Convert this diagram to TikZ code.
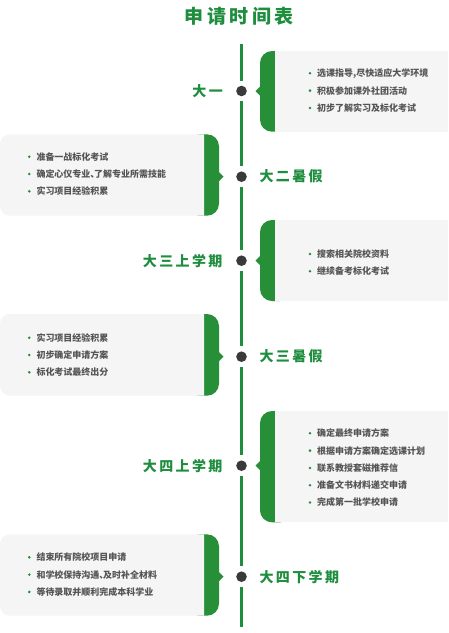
\documentclass[tikz,border=0pt]{standalone}
\usepackage{fontspec}
\newfontfamily\cjk{Noto Sans CJK SC}
\definecolor{tg}{HTML}{1E8E3E}
\definecolor{bg}{HTML}{268F38}
\definecolor{pg}{HTML}{F5F5F5}
\definecolor{tx}{HTML}{555555}
\definecolor{dotc}{HTML}{3A3A3A}
\newcommand\ks{\kern2.4pt}
\newcommand\kt{\kern3.4pt}
\newcommand\dun{、\kern-5.4pt}
\newcommand\rbox[3]{%
  \fill[bg,rounded corners=12pt] (260,#1) rectangle (292,#2);
  \fill[pg] (275,#1) rectangle (448,#2);
  \fill[bg] (260,#3-4.5) -- (255.5,#3) -- (260,#3+4.5) -- cycle;}
\newcommand\lbox[3]{%
  \fill[bg,rounded corners=12pt] (188,#1) rectangle (219,#2);
  \fill[pg] (204,#1) [rounded corners=10pt] -- (0,#1) -- (0,#2) [sharp corners] -- (204,#2) -- cycle;
  \fill[bg] (219,#3-4.5) -- (223.5,#3) -- (219,#3+4.5) -- cycle;}
\newcommand\items[4]{% name, bullet x, first y, list
  \foreach \t [count=\i from 0] in {#4} {
    \node[bul] (#1b\i) at (#2, #3+\i*17.3) {};
    \node[item] (#1t\i) at (#2+7, #3+\i*17.3) {\t};
  }}
\begin{document}
\begin{tikzpicture}[x=1pt,y=-1pt,
  tdot/.style={circle,fill=dotc,minimum size=10.6pt,inner sep=0pt,outer sep=5pt},
  lab/.style={font=\cjk\bfseries\fontsize{14}{16}\selectfont,text=tg,inner sep=0pt},
  item/.style={font=\cjk\bfseries\fontsize{9}{11}\selectfont,text=tx,inner sep=0pt,anchor=west},
  bul/.style={circle,fill=tg,minimum size=2.8pt,inner sep=0pt}]
\useasboundingbox[fill=white] (0,0) rectangle (448,633);

% title
\node[font=\cjk\bfseries\fontsize{19}{21}\selectfont,text=tg,inner sep=0pt] (title) at (239.2,16.7)
  {申\kt 请\kt 时\kt 间\kt 表};

% boxes
\rbox{51}{131.7}{91}
\lbox{134.3}{215.7}{176.7}
\rbox{220}{301}{260.7}
\lbox{314}{395.7}{356.7}
\rbox{411}{522.3}{465.7}
\lbox{534.3}{615.7}{576.7}

% items
\items{a}{310}{73.3}{{选课指导,尽快适应大学环境},积极参加课外社团活动,初步了解实习及标化考试}
\items{b}{29.3}{156.7}{准备一战标化考试,确定心仪专业\dun 了解专业所需技能,实习项目经验积累}
\items{c}{310}{254}{搜索相关院校资料,继续备考标化考试}
\items{d}{29.3}{337.7}{实习项目经验积累,初步确定申请方案,标化考试最终出分}
\items{e}{310}{433.3}{确定最终申请方案,根据申请方案确定选课计划,联系教授套磁推荐信,准备文书材料递交申请,完成第一批学校申请}
\items{f}{29.3}{557.3}{结束所有院校项目申请,和学校保持沟通\dun 及时补全材料,等待录取并顺利完成本科学业}

% timeline
\node[tdot] (d1) at (241.5,91) {};
\node[tdot] (d2) at (241.5,176.7) {};
\node[tdot] (d3) at (241.5,260.7) {};
\node[tdot] (d4) at (241.5,356.7) {};
\node[tdot] (d5) at (241.5,465.7) {};
\node[tdot] (d6) at (241.5,576.7) {};
\coordinate (top) at (241.5,44);
\coordinate (bot) at (241.5,627);
\draw[tg,line width=3.5pt] (top) -- (d1) (d1) -- (d2) (d2) -- (d3) (d3) -- (d4) (d4) -- (d5) (d5) -- (d6) (d6) -- (bot);

% labels
\node[lab,anchor=east] (l1) at (223,91) {大\ks 一};
\node[lab,anchor=west] (l2) at (259.3,176.7) {大\ks 二\ks 暑\ks 假};
\node[lab,anchor=east] (l3) at (222.7,260.7) {大\ks 三\ks 上\ks 学\ks 期};
\node[lab,anchor=west] (l4) at (259.3,356.7) {大\ks 三\ks 暑\ks 假};
\node[lab,anchor=east] (l5) at (222.7,465.7) {大\ks 四\ks 上\ks 学\ks 期};
\node[lab,anchor=west] (l6) at (259.3,576.7) {大\ks 四\ks 下\ks 学\ks 期};
\end{tikzpicture}
\end{document}
